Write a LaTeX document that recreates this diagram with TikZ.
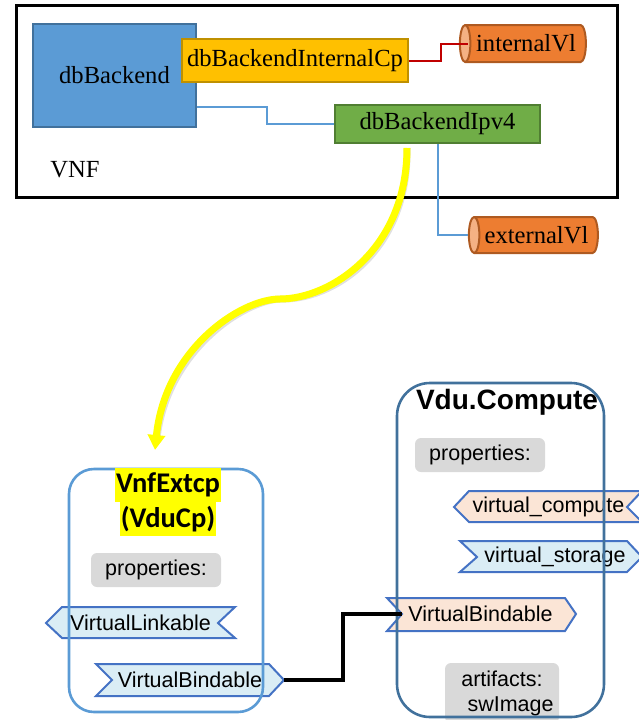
\documentclass[tikz,border=0pt]{standalone}
\usepackage{fontspec}
\setmainfont{Liberation Serif}
\newfontfamily\arialf{Liberation Sans}
\newfontfamily\calibrif{Carlito}
\usetikzlibrary{shapes.geometric,arrows.meta,calc}

\definecolor{boxblue}{HTML}{5B9BD5}
\definecolor{boxblueedge}{HTML}{41719C}
\definecolor{cpgold}{HTML}{FFC000}
\definecolor{cpgoldedge}{HTML}{BF9000}
\definecolor{ipgreen}{HTML}{70AD47}
\definecolor{ipgreenedge}{HTML}{507E32}
\definecolor{vlorange}{HTML}{ED7D31}
\definecolor{vlorangeedge}{HTML}{AE5A21}
\definecolor{vlend}{HTML}{F4B183}
\definecolor{linkred}{HTML}{C00000}
\definecolor{linkblue}{HTML}{5B9BD5}
\definecolor{bannerblue}{HTML}{DAEDF5}
\definecolor{bannerpeach}{HTML}{FBE5D6}
\definecolor{banneredge}{HTML}{4472C4}
\definecolor{propgray}{HTML}{D9D9D9}
\definecolor{vdublue}{HTML}{41719C}
\definecolor{hilite}{HTML}{FFFF00}

\tikzset{
  serifbig/.style={font=\fontsize{24.6}{28}\selectfont},
  sanstext/.style={font=\arialf\fontsize{21.5}{25}\selectfont},
  compbox/.style={draw, line width=2.5pt, inner sep=0pt, serifbig},
  vlcyl/.style={cylinder, shape border rotate=180, aspect=0.6,
    draw=vlorangeedge, line width=2pt, cylinder uses custom fill,
    cylinder body fill=vlorange, cylinder end fill=vlend,
    inner sep=0pt, serifbig},
  bluelink/.style={draw=linkblue, line width=2pt},
  redlink/.style={draw=linkred, line width=2pt},
  bannerB/.style={draw=banneredge, fill=bannerblue, line width=2pt, line join=miter},
  bannerP/.style={draw=banneredge, fill=bannerpeach, line width=2pt, line join=miter},
  bantext/.style={sanstext, inner sep=0pt},
  graybox/.style={fill=propgray, rounded corners=6pt, inner sep=0pt, sanstext},
  holder/.style={rounded corners=#1, line width=2.6pt},
  titlehl/.style={fill=hilite, inner xsep=1pt, inner ysep=0pt,
    minimum height=34pt, font=\calibrif\bfseries\fontsize{28.5}{32}\selectfont}
}

\begin{document}
\begin{tikzpicture}[x=1pt,y=-1pt]
\useasboundingbox (0,0) rectangle (638,720);

% ---------- VNF frame ----------
\draw[line width=3pt] (16,5) rectangle (617,197);
\node[serifbig, anchor=center] (vnf) at (75,170) {VNF};

\node[compbox, fill=boxblue, draw=boxblueedge, minimum width=163pt, minimum height=103pt]
  (db) at (114.5,75.5) {dbBackend};
\node[compbox, fill=cpgold, draw=cpgoldedge, minimum width=226pt, minimum height=43pt]
  (icp) at (295,60.5) {dbBackendInternalCp};
\node[compbox, fill=ipgreen, draw=ipgreenedge, minimum width=205pt, minimum height=38pt]
  (ipv) at (437.5,124) {dbBackendIpv4};

\node[vlcyl, minimum height=126pt, minimum width=37pt] (ivl) at (526,43.5) {internalVl};
\node[vlcyl, minimum height=129pt, minimum width=36pt] (evl) at (536.5,235) {externalVl};

% links inside the VNF
\draw[redlink] (icp.east) -- ++(32,0) |- ($(ivl.west)+(9,0)$);
\draw[bluelink] ($(db.south east)+(0,-21)$) -- ++(70,0) |- (ipv.west);
\draw[bluelink] (ipv.south) |- (evl.west);

% ---------- yellow mapping arrow ----------
\coordinate (ystart) at (407,148);
\coordinate (ymid) at (280,299);
\coordinate (yend) at (155,450);
\draw[line width=7pt, draw=black, opacity=0.12, shift={(2,2)}]
  (ystart) .. controls (407,250) and (330,299) .. (ymid)
  .. controls (240,299) and (165,350) .. (155,436);
\draw[line width=7pt, draw=hilite, -{Triangle[width=17pt,length=15pt]}]
  (ystart) .. controls (407,250) and (330,299) .. (ymid)
  .. controls (240,299) and (165,350) .. (yend);

% ---------- VnfExtcp (VduCp) ----------
\draw[bannerB] (46,623) -- (62,607) -- (235,607) -- (218,623) -- (235,638) -- (62,638) -- cycle;
\node[bantext] (vlink) at (140.5,623) {VirtualLinkable};
\draw[bannerB] (96,664) -- (269,664) -- (284,680) -- (269,696) -- (96,696) -- (112,680) -- cycle;
\node[bantext] (vbindL) at (190,680) {VirtualBindable};
\coordinate (vbindLtip) at (284,680);

\node[graybox, minimum width=130pt, minimum height=34pt] (propL) at (156,570) {properties:};
\draw[holder=25pt, draw=boxblue] (69,469) rectangle (263,712);

\node[titlehl] (extcp1) at (168,485) {VnfExtcp};
\node[titlehl] (extcp2) at (168,519) {(VduCp)};

% ---------- Vdu.Compute ----------
\draw[bannerP] (454,507) -- (469,491) -- (642,491) -- (627,507) -- (642,522) -- (469,522) -- cycle;
\node[bantext] (vcomp) at (548.5,507) {virtual\_compute};
\draw[bannerB] (460,541) -- (627,541) -- (642,557) -- (627,572) -- (460,572) -- (477,557) -- cycle;
\node[bantext] (vstor) at (555,557) {virtual\_storage};
\draw[bannerP] (387,598) -- (565,598) -- (576,614) -- (565,631) -- (387,631) -- (402,614) -- cycle;
\node[bantext] (vbindR) at (480.5,614) {VirtualBindable};
\coordinate (vbindRnotch) at (402,614);

\node[graybox, minimum width=130pt, minimum height=34pt] (propR) at (480,455) {properties:};
\node[graybox, minimum width=114pt, minimum height=60pt, align=center,
  font=\arialf\fontsize{21.5}{25}\selectfont] (art) at (502,693)
  {artifacts:\\\hspace*{0.8em}swImage};

\draw[holder=33pt, draw=vdublue] (397,383) rectangle (604,717);
\node[font=\arialf\bfseries\fontsize{28}{32}\selectfont, inner sep=0pt] (vdu) at (507,402) {Vdu.Compute};

% ---------- binding link ----------
\draw[line width=3.5pt] (vbindLtip) -- ++(59,0) |- (vbindRnotch);

\end{tikzpicture}
\end{document}
